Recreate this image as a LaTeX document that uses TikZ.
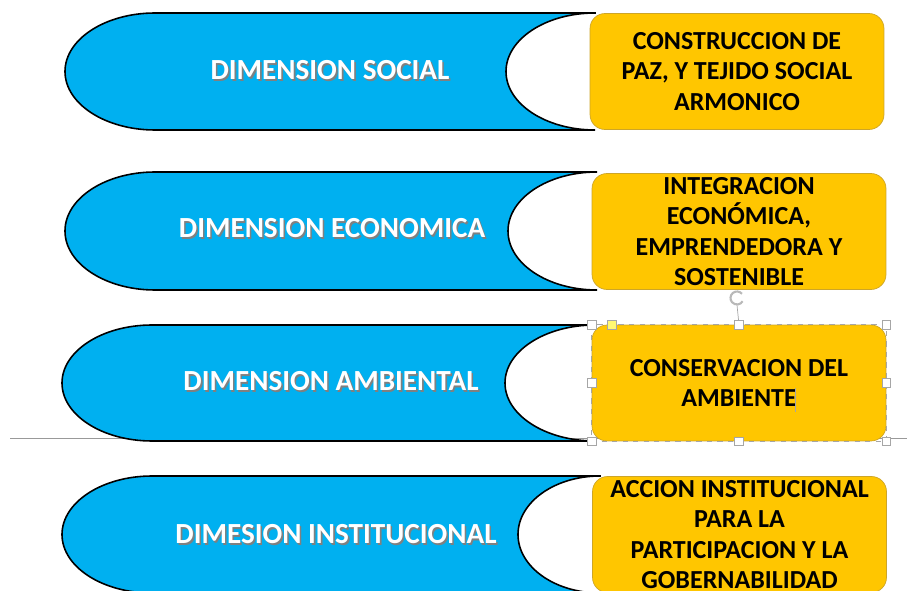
\documentclass[tikz,border=0pt]{standalone}
\usepackage{fontspec}
\setmainfont{Carlito}
\newcommand{\shadowed}[1]{\makebox[0pt][l]{\kern0.9pt\raisebox{-0.9pt}{\textcolor{black!50}{#1}}}#1}
\begin{document}
\begin{tikzpicture}[x=0.02cm,y=-0.02cm]

    % Define colors
    \definecolor{dimblue}{RGB}{0,176,240}
    \definecolor{goalgold}{RGB}{255,198,0}
    \definecolor{goaledge}{RGB}{205,165,40}

    \tikzset{
      dimtext/.style={text=white, font=\bfseries\fontsize{16.6}{19}\selectfont},
      goalbox/.style={fill=goalgold, draw=goaledge, rounded corners=0.3cm,
        minimum width=5.88cm, minimum height=2.32cm, inner sep=0pt},
      goaltext/.style={align=center, font=\bfseries\fontsize{14.8}{17.4}\selectfont},
      handle/.style={draw=gray!70, fill=white, minimum size=0.17cm, inner sep=0pt}
    }

    \useasboundingbox (0,0) rectangle (907,591);

    \draw[gray!80] (10,438) -- (907,438);

    %-------------
    % First row
    \filldraw[fill=dimblue, draw=black, line width=0.9pt] (595,13) -- (155,13)
      arc[start angle=270,end angle=90,x radius=90,y radius=58.5] -- (595,130)
      arc[start angle=90,end angle=270,x radius=89,y radius=58.5] -- cycle;
    \node[dimtext] (social) at (330,71) {\shadowed{DIMENSION SOCIAL}};

    \node[goalbox] (paz) at (737,71.5) {};
    \node[goaltext] (paztext) at (paz) {CONSTRUCCION DE\\PAZ, Y TEJIDO SOCIAL\\ARMONICO};

    %-------------
    % Second row
    \filldraw[fill=dimblue, draw=black, line width=0.9pt] (597,172) -- (155,172)
      arc[start angle=270,end angle=90,x radius=90,y radius=59] -- (597,290)
      arc[start angle=90,end angle=270,x radius=89,y radius=59] -- cycle;
    \node[dimtext] (economica) at (332,229) {\shadowed{DIMENSION ECONOMICA}};

    \node[goalbox] (eco) at (739,231.5) {};
    \node[goaltext] (ecotext) at (eco) {INTEGRACION\\ECONÓMICA,\\EMPRENDEDORA Y\\SOSTENIBLE};

    %-------------
    % Third row
    \filldraw[fill=dimblue, draw=black, line width=0.9pt] (595,325) -- (152,325)
      arc[start angle=270,end angle=90,x radius=90,y radius=58] -- (595,441)
      arc[start angle=90,end angle=270,x radius=90,y radius=58] -- cycle;
    \node[dimtext] (ambiental) at (331,382) {\shadowed{DIMENSION AMBIENTAL}};

    \node[goalbox] (amb) at (739,383) {};
    \node[goaltext] (ambtext) at (amb) {CONSERVACION DEL\\AMBIENTE};

    % selection frame
    \draw[gray!70, dashed] (amb.north west) rectangle (amb.south east);
    \foreach \a/\n in {north west/nw, north/n, north east/ne, east/e,
                       south east/se, south/s, south west/sw, west/w}
      \node[handle] (h\n) at (amb.\a) {};
    \node[handle, fill=yellow!55] (hadj) at ([xshift=0.4cm]amb.north west) {};
    \coordinate (rot) at (737,298);
    \draw[gray!70] (hn) -- ([yshift=-0.14cm]rot);
    \draw[gray!55, line width=1.2pt] ([shift={(40:0.13cm)}]rot)
      arc[start angle=40,end angle=330,radius=0.13cm];
    \draw[gray!70] (795,388) -- (795,412);

    %-------------
    % Fourth row
    \filldraw[fill=dimblue, draw=black, line width=0.9pt] (600,476) -- (152,476)
      arc[start angle=270,end angle=90,x radius=90,y radius=58.5] -- (600,593)
      arc[start angle=90,end angle=270,x radius=82,y radius=58.5] -- cycle;
    \node[dimtext] (institucional) at (336,535) {\shadowed{DIMESION INSTITUCIONAL}};

    \node[goalbox] (inst) at (739.5,534.5) {};
    \node[goaltext] (insttext) at (inst) {ACCION INSTITUCIONAL\\PARA LA\\PARTICIPACION Y LA\\GOBERNABILIDAD};

\end{tikzpicture}
\end{document}
